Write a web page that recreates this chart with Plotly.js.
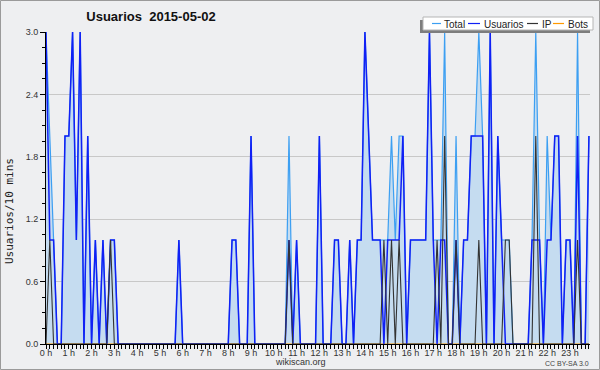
<!DOCTYPE html>
<html>
<head>
<meta charset="utf-8">
<script src="https://cdn.plot.ly/plotly-3.0.1.min.js"></script>
<style>
html,body{margin:0;padding:0;background:#eeeff1;}
#chart{width:600px;height:370px;}
</style>
</head>
<body>
<div id="chart"></div>
<script>
// 144 ten-minute slots, 2015-05-02
const usuarios = [
  3,1,1,0,0,2,2,3,1,3,0,2,0,1,0,1,0,1,1,0,0,0,0,0,
  0,0,0,0,0,0,0,0,0,0,0,1,0,0,0,0,0,0,0,0,0,0,0,0,
  0,1,1,0,0,0,2,0,0,0,0,0,0,0,0,0,1,0,1,0,0,0,0,0,
  2,0,0,0,1,1,0,0,1,0,1,1,3,2,1,1,1,0,1,1,1,1,2,0,
  1,1,1,1,1,3,1,0,1,1,0,0,1,0,1,1,2,2,2,2,0,3,0,2,
  1,0,0,0,0,0,0,0,1,1,1,0,1,1,2,2,0,1,1,0,2,0,0,2
];
const ip = [
  0,1,0,0,0,0,0,0,0,0,0,0,0,0,0,0,0,1,0,0,0,0,0,0,
  0,0,0,0,0,0,0,0,0,0,0,0,0,0,0,0,0,0,0,0,0,0,0,0,
  0,0,0,0,0,0,0,0,0,0,0,0,0,0,0,0,1,0,0,0,0,0,0,0,
  0,0,0,0,0,0,0,0,0,0,0,0,0,0,0,0,0,1,0,1,0,1,0,0,
  0,0,0,0,0,0,0,1,0,2,0,0,1,0,0,0,0,0,1,0,0,0,0,0,
  0,1,1,0,0,0,0,0,0,2,0,0,0,0,0,0,0,0,0,0,1,0,0,0
];
const total = [
  3,2,1,0,0,2,2,3,1,3,0,2,0,1,0,1,0,1,1,0,0,0,0,0,
  0,0,0,0,0,0,0,0,0,0,0,1,0,0,0,0,0,0,0,0,0,0,0,0,
  0,1,1,0,0,0,2,0,0,0,0,0,0,0,0,0,2,0,1,0,0,0,0,0,
  2,0,0,0,1,1,0,0,1,0,1,1,3,2,1,1,1,1,1,2,1,2,2,0,
  1,1,1,1,1,3,1,1,1,3,0,0,2,0,1,1,2,2,3,2,0,3,0,2,
  1,1,1,0,0,0,0,0,1,3,1,0,2,1,2,2,0,1,1,0,3,0,0,2
];
const bots = [
  0,0,0,0,0,0,0,0,0,0,0,0,0,0,0,0,0,0,0,0,0,0,0,0,
  0,0,0,0,0,0,0,0,0,0,0,0,0,0,0,0,0,0,0,0,0,0,0,0,
  0,0,0,0,0,0,0,0,0,0,0,0,0,0,0,0,0,0,0,0,0,0,0,0,
  0,0,0,0,0,0,0,0,0,0,0,0,0,0,0,0,0,0,0,0,0,0,0,0,
  0,0,0,0,0,0,0,0,0,0,0,0,0,0,0,0,0,0,0,0,0,0,0,0,
  0,0,0,0,0,0,0,0,0,0,0,0,0,0,0,0,0,0,0,0,0,0,0,0
];
const hourTickValues = [0,1,2,3,4,5,6,7,8,9,10,11,12,13,14,15,16,17,18,19,20,21,22,23];
const hourTickLabels = ["0 h","1 h","2 h","3 h","4 h","5 h","6 h","7 h","8 h","9 h","10 h","11 h",
  "12 h","13 h","14 h","15 h","16 h","17 h","18 h","19 h","20 h","21 h","22 h","23 h"];
const yTickValues = [0, 0.6, 1.2, 1.8, 2.4, 3.0];
const yTickLabels = ["0.0","0.6","1.2","1.8","2.4","3.0"];
const seriesNames = ["Total","Usuarios","IP","Bots"];
const chartTitle = "Usuarios\u00a0 2015-05-02";
const yTitle = "Usuarios/10 mins";

// time of each slot in hours
const times = usuarios.map((_, i) => i / 6);

// pixel helpers (plot area 46..590 x 32..344)
const L = 46, R = 590, T = 32, B = 344;
const px = v => (v - L) / (R - L);
const py = v => (B - v) / (B - T);

const colors = {Total:'#3c9ff2', Usuarios:'#1020f5', IP:'#333333', Bots:'#ff9a00'};
const FONT = 'Liberation Sans, Arial, sans-serif';

const traces = [
  {x: times, y: total, name: seriesNames[0], type:'scatter', mode:'lines',
   line:{color:colors.Total, width:1.2}, fill:'tozeroy', fillcolor:'#c5dcf0', hoverinfo:'skip'},
  {x: times, y: bots, name: seriesNames[3], type:'scatter', mode:'lines',
   line:{color:colors.Bots, width:1}, hoverinfo:'skip'},
  {x: times, y: usuarios, name: seriesNames[1], type:'scatter', mode:'lines',
   line:{color:colors.Usuarios, width:1.5}, hoverinfo:'skip'},
  {x: times, y: ip, name: seriesNames[2], type:'scatter', mode:'lines',
   line:{color:colors.IP, width:1.1}, hoverinfo:'skip'}
];

// custom compact legend
const legendItems = [
  {name: seriesNames[0], l0: 432, l1: 441, tx: 443},
  {name: seriesNames[1], l0: 468, l1: 480, tx: 483},
  {name: seriesNames[2], l0: 527, l1: 538, tx: 541},
  {name: seriesNames[3], l0: 553, l1: 564, tx: 567}
];
const shapes = [
  {type:'rect', xref:'paper', yref:'paper', x0:px(0.5), x1:px(599.5), y0:py(369.5), y1:py(0.5),
   line:{color:'#9a9a9a', width:1}, fillcolor:'rgba(0,0,0,0)', layer:'above'},
  {type:'rect', xref:'paper', yref:'paper', x0:px(420), x1:px(590), y0:py(33), y1:py(20),
   line:{width:0}, fillcolor:'#7d7d7d', layer:'above'},
  {type:'rect', xref:'paper', yref:'paper', x0:px(423), x1:px(593), y0:py(30), y1:py(17),
   line:{color:'#b5b5b5', width:1}, fillcolor:'#ffffff', layer:'above'}
];
const annotations = [];
legendItems.forEach(it => {
  shapes.push({type:'line', xref:'paper', yref:'paper', x0:px(it.l0), x1:px(it.l1), y0:py(23.5), y1:py(23.5),
    line:{color:colors[it.name], width:1.2}, layer:'above'});
  annotations.push({xref:'paper', yref:'paper', x:px(it.tx), y:py(24), text:it.name, showarrow:false,
    xanchor:'left', yanchor:'middle', borderpad:0, font:{family:FONT, size:10, color:'#222'}});
});
annotations.push({xref:'paper', yref:'paper', x:px(9), y:py(211), text:yTitle, textangle:-90, showarrow:false,
  xanchor:'center', yanchor:'middle', font:{family:'DejaVu Sans Mono, monospace', size:11, color:'#222'}});
annotations.push({xref:'paper', yref:'paper', x:px(300), y:py(362), text:'wikiscan.org', showarrow:false,
  xanchor:'center', yanchor:'middle', borderpad:0, font:{family:FONT, size:9, color:'#333'}});
annotations.push({xref:'paper', yref:'paper', x:px(590), y:py(363), text:'CC BY-SA 3.0', showarrow:false,
  xanchor:'right', yanchor:'middle', borderpad:0, font:{family:FONT, size:7, color:'#444'}});

const layout = {
  width:600, height:370,
  margin:{l:L, r:600-R, t:T, b:370-B, pad:0},
  paper_bgcolor:'#eeeff1', plot_bgcolor:'#eeeff1',
  showlegend:false,
  title:{text:chartTitle, xref:'container', yref:'container', x:151/600, y:1-16/370,
    xanchor:'center', yanchor:'middle', font:{family:FONT, size:13, color:'#111', weight:'bold'}},
  xaxis:{range:[0, 23.88], tickmode:'array', tickvals:hourTickValues, ticktext:hourTickLabels,
    ticks:'outside', ticklen:4, tickwidth:1, tickcolor:'#000', showline:true, linecolor:'#000', linewidth:1,
    showgrid:false, zeroline:false, fixedrange:true, ticklabelstandoff:-4,
    tickfont:{family:FONT, size:9, color:'#333'},
    minor:{tick0:0, dtick:1/6, ticks:'outside', ticklen:4, tickwidth:1, tickcolor:'#000', showgrid:false}},
  yaxis:{range:[0, 3], tickmode:'array', tickvals:yTickValues, ticktext:yTickLabels,
    ticks:'outside', ticklen:5, tickwidth:1, tickcolor:'#000', showline:true, linecolor:'#000', linewidth:1,
    showgrid:true, gridcolor:'#c8c8c8', gridwidth:1, zeroline:false, fixedrange:true,
    tickfont:{family:FONT, size:9, color:'#333'},
    minor:{tick0:0, dtick:0.15, ticks:'outside', ticklen:3, tickwidth:1, tickcolor:'#000', showgrid:false}},
  shapes: shapes,
  annotations: annotations
};

Plotly.newPlot('chart', traces, layout, {staticPlot:true, displayModeBar:false});
</script>
</body>
</html>
